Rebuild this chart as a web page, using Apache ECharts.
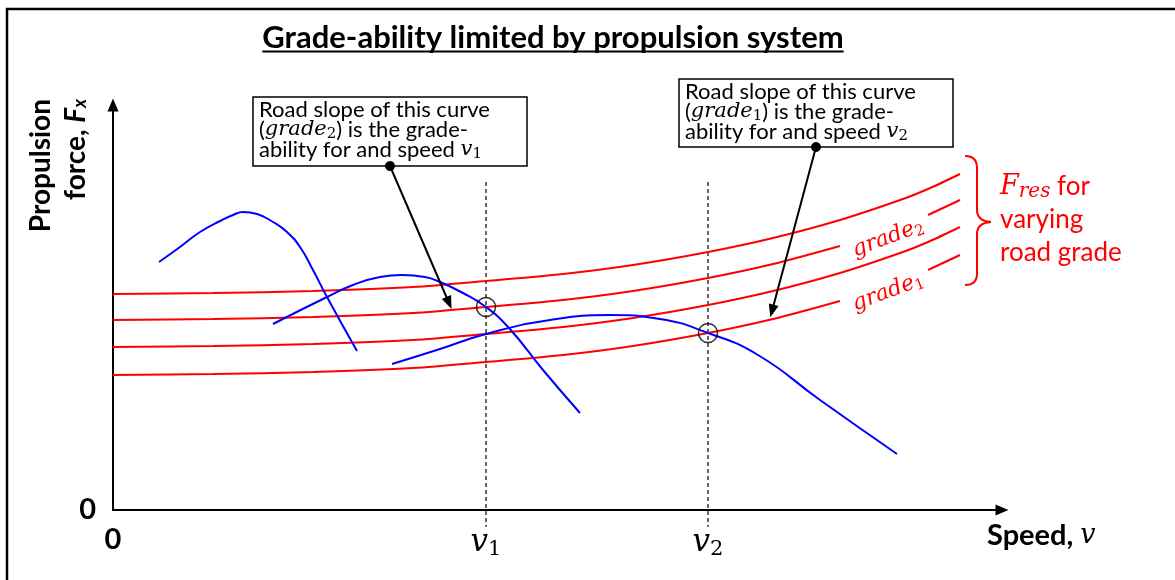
<!DOCTYPE html>
<html><head><meta charset="utf-8">
<script src="https://cdn.jsdelivr.net/npm/echarts@6/dist/echarts.min.js"></script>
<style>html,body{margin:0;padding:0;background:#fff}#c{width:1175px;height:580px}</style>
</head><body><div id="c"></div>
<script>
// ---- data (arbitrary units; speed 0 and force 0 at the origin) ----
const speed      = [0, 100, 200, 300, 373, 450, 520, 595, 660, 727, 790, 815, 847];
const fResTop    = [216, 217, 219, 223, 229, 236, 245, 258, 272, 290, 311, 321, 336];
const fResGrade2 = [190, 191, 193, 197, 203, 210, 219, 232, 246, 264, 285, 295, 310];
const fResMid    = [163, 164, 166, 170, 176, 183, 192, 205, 219, 237, 258, 268, 283];
const fResGrade1 = [135, 136, 138, 142, 148, 155, 164, 177, 191, 209, 230, 240, 255];
const labelGap   = [727, 815];           // grade labels interrupt these two curves

const gear1Speed = [46, 67, 87, 107, 120, 130, 144, 160, 174, 187, 200, 214, 244];
const gear1Force = [248, 263, 278, 289, 295, 298, 296, 288, 278, 263, 240, 213, 159];
const gear2Speed = [160, 214, 240, 267, 289, 312, 327, 350, 373, 396, 430, 467];
const gear2Force = [186, 213, 225, 233, 235, 233, 228, 217, 203, 182, 140, 97];
const gear3Speed = [279, 327, 373, 437, 497, 547, 595, 645, 707, 784];
const gear3Force = [146, 161, 176, 190, 195, 191, 177, 155, 110, 56];

const V1 = 373, V2 = 595;
const speedTicks = [0, V1, V2];
const forceTicks = [0];
const guideTop = 328, guideBottom = -17;
const speedMax = 889, forceMax = 405;
const note1From = [277, 344], note1To = [336, 207];
const note2From = [703, 363], note2To = [659, 199];

// ---- styles ----
const SANS = "Lato, 'Open Sans', sans-serif";
const MATH = "'DejaVu Serif', 'Liberation Serif', serif";
const RED = '#ff0000', BLUE = '#0000ff';

function pairs(xs, ys, gap) {
  return xs.map((x, i) => (gap && x > gap[0] && x < gap[1]) ? [x, '-'] : [x, ys[i]]);
}
function redLine(ys, gap) {
  return { type: 'line', data: pairs(speed, ys, gap), smooth: 0.3, symbol: 'none', silent: true,
    connectNulls: false, lineStyle: { color: RED, width: 2 }, z: 3 };
}
function blueLine(xs, ys) {
  return { type: 'line', data: pairs(xs, ys), smooth: 0.5, symbol: 'none', silent: true,
    lineStyle: { color: BLUE, width: 2 }, z: 4 };
}
function guide(v) {
  return { type: 'line', data: [[v, guideTop], [v, guideBottom]], clip: false, symbol: 'none', silent: true,
    lineStyle: { color: '#000', width: 1.2, type: [4, 3] }, z: 2 };
}
function tok(o) { // rich token for zrender text
  const f = (o.fontStyle || 'normal') + ' ' + (o.fontWeight || 'normal') + ' ' + o.fontSize + 'px ' + o.fontFamily;
  return Object.assign({ font: f }, o);
}

const titleText = 'Grade-ability limited by propulsion system';
const titleFont = 'bold 31px Lato';
const mctx = document.createElement('canvas').getContext('2d');
mctx.font = titleFont;
const titleW = mctx.measureText(titleText).width;
const titleCx = 553;

function noteBox(x, y, w, h, sub1, sub2) {
  return {
    type: 'group', z: 1,
    children: [
      { type: 'rect', shape: { x: x, y: y, width: w, height: h }, style: { fill: '#fff', stroke: '#000', lineWidth: 1.5 } },
      { type: 'text', x: x + 6, y: y + 3, style: {
          text: 'Road slope of this curve\n({m|grade}{s|' + sub1 + '}) is the grade-\nability for and speed {m|v}{s|' + sub2 + '}',
          font: '22px Lato', fontSize: 22, fontFamily: SANS, fill: '#000', lineHeight: 20,
          align: 'left', verticalAlign: 'top', textAlign: 'left', textVerticalAlign: 'top',
          rich: {
            m: tok({ fontFamily: MATH, fontStyle: 'italic', fontSize: 21, lineHeight: 20, fill: '#000' }),
            s: tok({ fontFamily: MATH, fontSize: 15, lineHeight: 20, padding: [9, 0, 0, 0], fill: '#000' })
          } } }
    ]
  };
}
function gradeLabel(cx, cy, sub) {
  return { type: 'text', x: cx, y: cy, rotation: 0.36, z: 6, style: {
    text: '{m|grade}{s|' + sub + '}', align: 'center', verticalAlign: 'middle', textAlign: 'center', textVerticalAlign: 'middle',
    fill: RED, font: 'italic 22px ' + MATH,
    rich: {
      m: tok({ fontFamily: MATH, fontStyle: 'italic', fontSize: 22, lineHeight: 26, fill: RED }),
      s: tok({ fontFamily: MATH, fontSize: 15, lineHeight: 26, padding: [10, 0, 0, 0], fill: RED })
    } } };
}
function brace(pieces) {
  return pieces.map(p => Object.assign({ silent: true, style: { fill: 'none', stroke: RED, lineWidth: 2 } }, p));
}

const chart = echarts.init(document.getElementById('c'), null, { renderer: 'canvas' });
chart.setOption({
  animation: false,
  backgroundColor: '#fff',
  grid: { left: 113, right: 173, top: 105, bottom: 70, containLabel: false, outerBoundsMode: 'none' },
  xAxis: {
    type: 'value', min: 0, max: speedMax,
    axisLine: { show: true, onZero: false, symbol: ['none', 'triangle'], symbolSize: [11, 13], lineStyle: { color: '#000', width: 2 } },
    axisTick: { show: false }, splitLine: { show: false },
    axisLabel: {
      customValues: speedTicks, margin: 15, interval: 0,
      formatter: v => v === 0 ? '{z|0}' : '{v|v}{s|' + (v === V1 ? '1' : '2') + '}',
      rich: {
        z: { fontFamily: SANS, fontWeight: 'bold', fontSize: 29, lineHeight: 30, color: '#000' },
        v: { fontFamily: MATH, fontStyle: 'italic', fontSize: 31, lineHeight: 36, color: '#000' },
        s: { fontFamily: MATH, fontSize: 21, lineHeight: 36, padding: [14, 0, 0, 0], color: '#000' }
      }
    }
  },
  yAxis: {
    type: 'value', min: 0, max: forceMax,
    axisLine: { show: true, onZero: false, symbol: ['none', 'triangle'], symbolSize: [11, 13], lineStyle: { color: '#000', width: 2 } },
    axisTick: { show: false }, splitLine: { show: false },
    axisLabel: { customValues: forceTicks, margin: 17, fontFamily: SANS, fontWeight: 'bold', fontSize: 29, color: '#000', formatter: v => String(v) }
  },
  series: [
    redLine(fResTop), redLine(fResGrade2, labelGap), redLine(fResMid), redLine(fResGrade1, labelGap),
    blueLine(gear1Speed, gear1Force), blueLine(gear2Speed, gear2Force), blueLine(gear3Speed, gear3Force),
    guide(V1), guide(V2),
    { type: 'scatter', silent: true, z: 6, symbolSize: 19,
      data: [[V1, fResGrade2[speed.indexOf(V1)]], [V2, fResGrade1[speed.indexOf(V2)]]],
      itemStyle: { color: 'rgba(0,0,0,0)', borderColor: '#000', borderWidth: 1.5 } },
    { type: 'line', data: [], z: 7, silent: true,
      markLine: { silent: true, animation: false, label: { show: false },
        lineStyle: { color: '#000', width: 2, type: 'solid' },
        emphasis: { disabled: true },
        data: [
          [{ coord: note1From, symbol: 'circle', symbolSize: 10 }, { coord: note1To, symbol: 'triangle', symbolSize: [10, 13] }],
          [{ coord: note2From, symbol: 'circle', symbolSize: 10 }, { coord: note2To, symbol: 'triangle', symbolSize: [10, 13] }]
        ] } }
  ],
  graphic: { elements: [
    { type: 'rect', shape: { x: 7, y: 9, width: 1200, height: 600 }, style: { fill: 'none', stroke: '#000', lineWidth: 2.5 }, silent: true },
    { type: 'text', x: titleCx, y: 38, style: { text: titleText, font: titleFont, fill: '#000', align: 'center', verticalAlign: 'middle', textAlign: 'center', textVerticalAlign: 'middle' } },
    { type: 'rect', shape: { x: titleCx - titleW / 2, y: 50.5, width: titleW, height: 2 }, style: { fill: '#000' } },
    { type: 'text', x: 58, y: 99, rotation: Math.PI / 2, style: {
        text: '{b|Propulsion}\n{b|force, }{bi|F}{sub|x}', align: 'right', verticalAlign: 'middle', textAlign: 'right', textVerticalAlign: 'middle',
        fill: '#000', font: 'bold 28px Lato',
        rich: {
          b: tok({ fontFamily: SANS, fontWeight: 'bold', fontSize: 28, lineHeight: 35, fill: '#000' }),
          bi: tok({ fontFamily: SANS, fontWeight: 'bold', fontStyle: 'italic', fontSize: 28, lineHeight: 35, fill: '#000' }),
          sub: tok({ fontFamily: SANS, fontWeight: 'bold', fontStyle: 'italic', fontSize: 18, lineHeight: 35, padding: [10, 0, 0, 0], fill: '#000' })
        } } },
    { type: 'text', x: 987, y: 536, style: {
        text: '{b|Speed, }{m|v}', align: 'left', verticalAlign: 'middle', textAlign: 'left', textVerticalAlign: 'middle',
        fill: '#000', font: 'bold 29px Lato',
        rich: {
          b: tok({ fontFamily: SANS, fontWeight: 'bold', fontSize: 29, lineHeight: 34, fill: '#000' }),
          m: tok({ fontFamily: MATH, fontStyle: 'italic', fontSize: 27, lineHeight: 34, fill: '#000' })
        } } },
    noteBox(253, 97, 274, 69, '2', '1'),
    noteBox(679, 79, 274, 68, '1', '2'),
    gradeLabel(888, 238, '2'),
    gradeLabel(888, 292, '1'),
    ...brace([
      { type: 'bezierCurve', shape: { x1: 965, y1: 156, x2: 977, y2: 168, cpx1: 977, cpy1: 156 } },
      { type: 'line', shape: { x1: 977, y1: 168, x2: 977, y2: 210 } },
      { type: 'bezierCurve', shape: { x1: 977, y1: 210, x2: 991, y2: 222, cpx1: 977, cpy1: 221 } },
      { type: 'bezierCurve', shape: { x1: 991, y1: 222, x2: 977, y2: 234, cpx1: 977, cpy1: 223 } },
      { type: 'line', shape: { x1: 977, y1: 234, x2: 977, y2: 274 } },
      { type: 'bezierCurve', shape: { x1: 977, y1: 274, x2: 965, y2: 285, cpx1: 977, cpy1: 285 } }
    ]),
    { type: 'text', x: 1000, y: 170, style: {
        text: '{F|F}{r|res}{t| for}\n{t|varying}\n{t|road grade}', align: 'left', verticalAlign: 'top', textAlign: 'left', textVerticalAlign: 'top',
        fill: RED, font: '26px Lato',
        rich: {
          F: tok({ fontFamily: MATH, fontStyle: 'italic', fontSize: 27, lineHeight: 33, fill: RED }),
          r: tok({ fontFamily: MATH, fontStyle: 'italic', fontSize: 20, lineHeight: 33, padding: [10, 0, 0, 0], fill: RED }),
          t: tok({ fontFamily: SANS, fontSize: 26, lineHeight: 33, fill: RED })
        } } }
  ] }
});
</script>
</body></html>
